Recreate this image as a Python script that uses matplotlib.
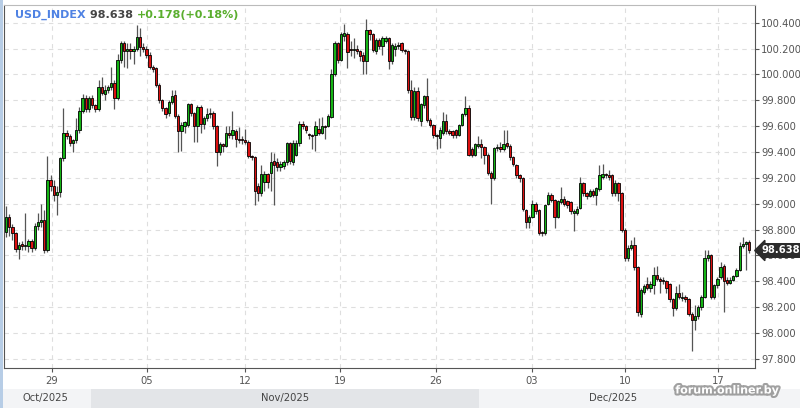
import matplotlib
matplotlib.use('Agg')
import matplotlib.pyplot as plt
import matplotlib.transforms as mtransforms
import matplotlib.patheffects as pe
from matplotlib.patches import Rectangle
import numpy as np

# ---------------- data (4H candles, USD_INDEX) ----------------
open_ = [
    98.78, 98.90, 98.82, 98.77, 98.65, 98.69, 98.67, 98.67, 98.71, 98.66,
    98.83, 98.86, 98.87, 98.64, 99.18, 99.14, 99.07, 99.09, 99.35, 99.55,
    99.52, 99.47, 99.49, 99.57, 99.72, 99.82, 99.73, 99.82, 99.76, 99.73,
    99.90, 99.85, 99.88, 99.90, 99.93, 99.82, 100.11, 100.24, 100.18, 100.20,
    100.18, 100.20, 100.29, 100.21, 100.20, 100.15, 100.06,
    100.05, 99.92, 99.80, 99.74, 99.70, 99.79, 99.84, 99.68, 99.56, 99.60,
    99.61, 99.77, 99.70, 99.60, 99.75, 99.62, 99.66, 99.69, 99.70, 99.60,
    99.40, 99.46, 99.45, 99.55, 99.53, 99.56, 99.50, 99.50, 99.49, 99.48,
    99.37, 99.36, 99.14, 99.08, 99.17, 99.23, 99.24, 99.33, 99.32, 99.28,
    99.29, 99.32, 99.47, 99.32, 99.38, 99.47, 99.62, 99.60,
    99.54, 99.53, 99.53, 99.58, 99.55, 99.60, 99.60, 99.67, 100.00, 100.24,
    100.11, 100.30, 100.31, 100.20, 100.19, 100.20, 100.18, 100.15, 100.10, 100.34,
    100.31, 100.18, 100.27, 100.22, 100.26, 100.28, 100.10, 100.20, 100.22, 100.24,
    100.19, 100.18, 99.88, 99.67, 99.87, 99.64, 99.76, 99.83, 99.65, 99.61,
    99.53, 99.51, 99.55, 99.64, 99.56, 99.56,
    99.57, 99.53, 99.61, 99.69, 99.74, 99.42, 99.38, 99.45, 99.46, 99.44,
    99.38, 99.24, 99.20, 99.43, 99.44, 99.42, 99.47, 99.45, 99.36, 99.30,
    99.22, 99.20, 98.95, 98.86, 98.90, 99.00, 98.95, 98.78, 98.77, 99.00,
    99.07, 99.03, 98.90, 99.01, 99.04, 99.02, 99.01, 98.93, 98.93, 98.97,
    99.16, 99.08, 99.06, 99.10, 99.07, 99.11, 99.21, 99.23,
    99.22, 99.22, 99.08, 99.16, 99.08, 98.80, 98.58, 98.66, 98.68, 98.51,
    98.15, 98.32, 98.38, 98.35, 98.37, 98.45, 98.42, 98.41, 98.40, 98.38,
    98.26, 98.19, 98.31, 98.27, 98.28, 98.26, 98.15, 98.10, 98.13, 98.20,
    98.28, 98.58, 98.60, 98.28, 98.37, 98.43, 98.52, 98.41, 98.39, 98.41,
    98.44, 98.49, 98.67, 98.69, 98.70,
]
high_ = [
    98.98, 98.92, 98.84, 98.78, 98.70, 98.71, 98.93, 98.73, 98.73, 98.85,
    98.93, 99.00, 98.95, 99.37, 99.22, 99.18, 99.14, 99.36, 99.74, 99.57,
    99.54, 99.50, 99.66, 99.75, 99.85, 99.84, 99.83, 99.84, 99.77, 99.96,
    99.98, 99.92, 99.92, 100.06, 99.96, 100.16, 100.26, 100.26, 100.24, 100.24,
    100.22, 100.38, 100.36, 100.24, 100.22, 100.17, 100.07,
    100.06, 99.93, 99.81, 99.75, 99.80, 99.88, 99.88, 99.69, 99.63, 99.64,
    99.78, 99.78, 99.71, 99.76, 99.76, 99.68, 99.74, 99.74, 99.72, 99.61,
    99.48, 99.47, 99.60, 99.60, 99.72, 99.58, 99.59, 99.52, 99.58, 99.49,
    99.38, 99.37, 99.16, 99.30, 99.25, 99.24, 99.40, 99.39, 99.35, 99.33,
    99.34, 99.48, 99.48, 99.49, 99.49, 99.64, 99.64, 99.61,
    99.55, 99.54, 99.64, 99.66, 99.67, 99.61, 99.69, 100.04, 100.26, 100.25,
    100.33, 100.39, 100.33, 100.26, 100.28, 100.23, 100.19, 100.17, 100.43, 100.35,
    100.32, 100.28, 100.28, 100.30, 100.30, 100.29, 100.24, 100.24, 100.25, 100.25,
    100.20, 100.19, 99.96, 99.90, 99.90, 99.78, 99.84, 99.97, 99.66, 99.62,
    99.54, 99.59, 99.71, 99.69, 99.58, 99.57,
    99.58, 99.62, 99.70, 99.83, 99.76, 99.44, 99.47, 99.52, 99.50, 99.45,
    99.39, 99.25, 99.44, 99.46, 99.48, 99.57, 99.57, 99.46, 99.37, 99.31,
    99.23, 99.21, 98.96, 98.91, 99.03, 99.01, 98.96, 98.79, 99.00, 99.09,
    99.08, 99.04, 99.03, 99.13, 99.06, 99.03, 99.02, 98.96, 98.98, 99.21,
    99.17, 99.09, 99.11, 99.11, 99.13, 99.30, 99.31, 99.24,
    99.26, 99.23, 99.18, 99.17, 99.09, 98.81, 98.68, 98.72, 98.74, 98.52,
    98.35, 98.38, 98.43, 98.40, 98.51, 98.52, 98.43, 98.43, 98.41, 98.39,
    98.27, 98.36, 98.38, 98.32, 98.29, 98.27, 98.16, 98.22, 98.22, 98.29,
    98.64, 98.64, 98.61, 98.38, 98.43, 98.55, 98.53, 98.43, 98.43, 98.45,
    98.50, 98.70, 98.74, 98.71, 98.72,
]
low_ = [
    98.74, 98.75, 98.72, 98.63, 98.57, 98.64, 98.64, 98.63, 98.63, 98.64,
    98.80, 98.82, 98.62, 98.63, 99.10, 99.02, 98.91, 99.05, 99.33, 99.50,
    99.45, 99.40, 99.47, 99.55, 99.70, 99.71, 99.71, 99.74, 99.71, 99.72,
    99.84, 99.80, 99.86, 99.88, 99.73, 99.80, 100.09, 100.06, 100.05, 100.12,
    100.08, 100.18, 100.14, 100.17, 100.13, 100.04, 100.02,
    99.90, 99.78, 99.72, 99.66, 99.68, 99.77, 99.66, 99.40, 99.41, 99.55,
    99.59, 99.68, 99.48, 99.48, 99.55, 99.58, 99.64, 99.66, 99.58, 99.29,
    99.38, 99.40, 99.44, 99.51, 99.50, 99.44, 99.47, 99.46, 99.46, 99.35,
    99.34, 98.99, 99.02, 99.06, 99.10, 99.12, 99.10, 98.99, 99.25, 99.25,
    99.27, 99.30, 99.31, 99.30, 99.37, 99.45, 99.58, 99.55,
    99.50, 99.42, 99.41, 99.53, 99.54, 99.50, 99.59, 99.66, 99.99, 100.09,
    100.10, 100.26, 100.05, 100.14, 100.13, 100.16, 100.10, 100.00, 100.00, 100.27,
    100.17, 100.16, 100.20, 100.15, 100.24, 100.04, 100.08, 100.14, 100.20, 100.17,
    100.16, 99.86, 99.65, 99.65, 99.64, 99.60, 99.74, 99.63, 99.59, 99.51,
    99.42, 99.43, 99.53, 99.54, 99.53, 99.51,
    99.51, 99.52, 99.60, 99.68, 99.37, 99.36, 99.37, 99.43, 99.35, 99.31,
    99.22, 99.00, 99.18, 99.41, 99.40, 99.41, 99.43, 99.34, 99.29, 99.20,
    99.17, 98.94, 98.81, 98.81, 98.89, 98.92, 98.76, 98.75, 98.76, 98.99,
    99.01, 98.81, 98.89, 99.00, 98.98, 98.97, 98.92, 98.79, 98.91, 98.96,
    99.06, 99.04, 99.05, 99.05, 98.99, 99.10, 99.19, 99.20,
    99.18, 99.06, 99.06, 99.02, 98.78, 98.56, 98.56, 98.64, 98.49, 98.13,
    98.12, 98.30, 98.33, 98.32, 98.30, 98.40, 98.31, 98.38, 98.31, 98.24,
    98.13, 98.18, 98.26, 98.25, 98.24, 98.13, 97.86, 98.02, 98.11, 98.18,
    98.27, 98.56, 98.26, 98.26, 98.35, 98.42, 98.165, 98.37, 98.38, 98.40,
    98.43, 98.48, 98.66, 98.49, 98.62,
]
close_ = [
    98.90, 98.82, 98.77, 98.65, 98.68, 98.67, 98.68, 98.71, 98.66, 98.83,
    98.86, 98.87, 98.64, 99.18, 99.14, 99.07, 99.09, 99.35, 99.55, 99.52,
    99.47, 99.49, 99.57, 99.72, 99.82, 99.73, 99.82, 99.76, 99.73, 99.90,
    99.86, 99.88, 99.90, 99.93, 99.82, 100.11, 100.24, 100.18, 100.20, 100.18,
    100.20, 100.29, 100.21, 100.20, 100.15, 100.06, 100.04,
    99.92, 99.80, 99.74, 99.69, 99.79, 99.83, 99.68, 99.56, 99.61, 99.63,
    99.77, 99.70, 99.60, 99.75, 99.62, 99.66, 99.69, 99.70, 99.60, 99.40,
    99.46, 99.45, 99.55, 99.53, 99.57, 99.50, 99.49, 99.49, 99.48, 99.37,
    99.36, 99.10, 99.08, 99.23, 99.23, 99.17, 99.32, 99.30, 99.28, 99.31,
    99.32, 99.47, 99.33, 99.47, 99.47, 99.62, 99.60, 99.57,
    99.53, 99.52, 99.60, 99.55, 99.60, 99.59, 99.68, 100.00, 100.24, 100.11,
    100.31, 100.32, 100.17, 100.19, 100.20, 100.18, 100.14, 100.10, 100.34, 100.31,
    100.19, 100.27, 100.22, 100.28, 100.28, 100.10, 100.23, 100.22, 100.23, 100.19,
    100.18, 99.88, 99.67, 99.87, 99.66, 99.77, 99.83, 99.65, 99.61, 99.53,
    99.52, 99.57, 99.64, 99.56, 99.55, 99.53,
    99.53, 99.61, 99.69, 99.74, 99.38, 99.38, 99.46, 99.46, 99.44, 99.38,
    99.24, 99.20, 99.43, 99.44, 99.42, 99.46, 99.45, 99.36, 99.31, 99.22,
    99.20, 98.96, 98.86, 98.90, 99.00, 98.94, 98.77, 98.77, 98.99, 99.07,
    99.03, 98.90, 99.02, 99.04, 99.00, 98.99, 98.94, 98.94, 98.96, 99.16,
    99.08, 99.06, 99.10, 99.07, 99.12, 99.22, 99.23, 99.22,
    99.21, 99.08, 99.16, 99.08, 98.80, 98.58, 98.66, 98.68, 98.51, 98.165,
    98.33, 98.36, 98.35, 98.38, 98.45, 98.42, 98.40, 98.40, 98.35, 98.26,
    98.19, 98.31, 98.28, 98.28, 98.26, 98.15, 98.10, 98.13, 98.20, 98.28,
    98.58, 98.60, 98.28, 98.37, 98.42, 98.51, 98.40, 98.39, 98.41, 98.44,
    98.49, 98.67, 98.69, 98.70, 98.638,
]

x_tick_labels = ['29', '05', '12', '19', '26', '03', '10', '17']
x_tick_pos = [14.3, 44.2, 74.9, 104.7, 134.8, 164.9, 194.0, 223.2]
month_labels = ['Oct/2025', 'Nov/2025', 'Dec/2025']
month_edges = [-1.9, 26.6, 148.3, 232.3]
y_ticks = [97.8, 98.0, 98.2, 98.4, 98.6, 98.8, 99.0, 99.2, 99.4, 99.6, 99.8, 100.0, 100.2, 100.4]
symbol = 'USD_INDEX'
last_price = 98.638
change = 0.178
change_pct = 0.18

# ---------------- figure ----------------
W, H = 800, 408
fig = plt.figure(figsize=(W / 100, H / 100), dpi=100)
fig.patch.set_facecolor('white')
ax = fig.add_axes([4 / W, 40 / H, 751 / W, 363 / H])
ax.set_facecolor('white')

o = np.array(open_); h = np.array(high_); l = np.array(low_); c = np.array(close_)
n = len(c)
x = np.arange(n)
up = c >= o
body_col = np.where(up, '#14b414', '#dc1010')
bottom = np.minimum(o, c)
height = np.maximum(np.abs(c - o), 0.004)

ax.vlines(x, l, h, color='#555555', linewidth=0.9, zorder=2)
ax.bar(x, height, bottom=bottom, width=0.74, color=body_col,
       edgecolor='black', linewidth=0.6, zorder=3)

ax.set_xlim(-0.63, 234.8)
ax.set_ylim(97.729, 100.537)

# ticks and grid
ax.set_yticks(y_ticks)
ax.set_yticklabels([f'{v:.3f}' for v in y_ticks])
ax.set_xticks(x_tick_pos)
ax.set_xticklabels(x_tick_labels)
ax.grid(True, linestyle=(0, (4, 4)), color='#dedede', linewidth=0.8, zorder=0)
ax.set_axisbelow(True)

ax.yaxis.tick_right()
ax.tick_params(axis='y', length=3, pad=1.5, labelsize=7.2, colors='#555555', width=0.8)
ax.tick_params(axis='x', length=3, pad=2.5, labelsize=7.2, colors='#555555', width=0.8)
for s in ax.spines.values():
    s.set_color('#555555')
    s.set_linewidth(0.8)
ax.spines['top'].set_color('#bbbbbb')

# month band
trans = mtransforms.blended_transform_factory(ax.transData, fig.transFigure)
band_h = 19 / H
band_cols = ['#f3f4f6', '#e3e5e8', '#f3f4f6']
for k, lab in enumerate(month_labels):
    x0, x1 = month_edges[k], month_edges[k + 1]
    x_right = 260 if k == len(month_labels) - 1 else x1
    fig.patches.append(Rectangle((x0, 0), x_right - x0, band_h, transform=trans,
                                 facecolor=band_cols[k], edgecolor='none', zorder=0))
    xc = (x0 + x1) / 2
    fig.text(xc, 9.5 / H, lab, transform=trans, ha='center', va='center',
             fontsize=7.2, color='#444444')

# left blue stripe
fig.patches.append(Rectangle((0, 0), 3 / W, 1, transform=fig.transFigure,
                             facecolor='#b7cde6', edgecolor='none', zorder=1))

# title
t1 = fig.text(15 / W, 1 - 15 / H, symbol, color='#4f82e3', fontsize=8,
              fontweight='bold', va='center', ha='left')
t2 = ax.annotate(f' {last_price:.3f} ', xy=(1, 0.5), xycoords=t1, va='center',
                 ha='left', color='#444444', fontsize=8, fontweight='bold')
t3 = ax.annotate(f'+{change:.3f}(+{change_pct:.2f}%)', xy=(1, 0.5), xycoords=t2,
                 va='center', ha='left', color='#5aae2e', fontsize=8, fontweight='bold')

# last-price tag
ytr = mtransforms.blended_transform_factory(ax.transAxes, ax.transData)
ax.text(1 + 7 / 751, last_price, f'{last_price:.3f}', transform=ytr, ha='left',
        va='center', fontsize=7.2, fontweight='bold', color='white', clip_on=False,
        zorder=10,
        bbox=dict(boxstyle='larrow,pad=0.18', facecolor='#2b2b2b', edgecolor='#2b2b2b'))

# watermark
fig.text(727 / W, 17.5 / H, 'forum.onliner.by', ha='center', va='center',
         fontsize=8, fontweight='bold', color='white', zorder=20,
         path_effects=[pe.withStroke(linewidth=3, foreground='#8a8a8a', alpha=0.8)])

fig.savefig('out.png', dpi=100, facecolor='white')
